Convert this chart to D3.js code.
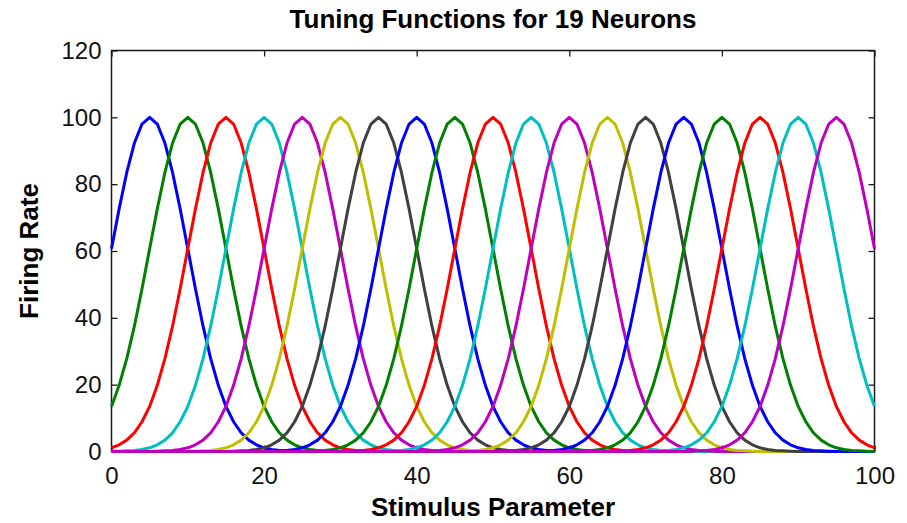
<!DOCTYPE html>
<html>
<head>
<meta charset="utf-8">
<script src="https://cdn.jsdelivr.net/npm/d3@7"></script>
<style>
  html, body { margin: 0; padding: 0; background: #fff; }
  svg { display: block; }
</style>
</head>
<body>
<svg id="chart" width="907" height="523"></svg>
<script>
// Stimulus values (x) at which every neuron's firing rate is sampled
const stimulus = d3.range(0, 101, 1);

// Preferred stimulus of each neuron
const preferred = [5, 10, 15, 20, 25, 30, 35, 40, 45, 50, 55, 60, 65, 70, 75, 80, 85, 90, 95];

// Firing rate of each neuron at stimulus 0..100
const neuron01 = [60.7,72.6,83.5,92.3,98,100,98,92.3,83.5,72.6,60.7,48.7,37.5,27.8,19.8,13.5,8.9,5.6,3.4,2,1.1,0.6,0.3,0.2,0.1,
  0,0,0,0,0,0,0,0,0,0, 0,0,0,0,0,0,0,0,0,0, 0,0,0,0,0,0,0,0,0,0, 0,0,0,0,0,0,0,0,0,0, 0,0,0,0,0,0,0,0,0,0, 0,0,0,0,0,0,0,0,0,0, 0,0,0,0,0,0,0,0,0,0, 0,0,0,0,0,0];
const neuron02 = [13.5,19.8,27.8,37.5,48.7,60.7,72.6,83.5,92.3,98,100,98,92.3,83.5,72.6,60.7,48.7,37.5,27.8,19.8,13.5,8.9,5.6,3.4,2,1.1,0.6,0.3,0.2,0.1,
  0,0,0,0,0,0,0,0,0,0, 0,0,0,0,0,0,0,0,0,0, 0,0,0,0,0,0,0,0,0,0, 0,0,0,0,0,0,0,0,0,0, 0,0,0,0,0,0,0,0,0,0, 0,0,0,0,0,0,0,0,0,0, 0,0,0,0,0,0,0,0,0,0, 0];
const neuron03 = [1.1,2,3.4,5.6,8.9,13.5,19.8,27.8,37.5,48.7,60.7,72.6,83.5,92.3,98,100,98,92.3,83.5,72.6,60.7,48.7,37.5,27.8,19.8,13.5,8.9,5.6,3.4,2,1.1,0.6,0.3,0.2,0.1,
  0,0,0,0,0,0,0,0,0,0, 0,0,0,0,0,0,0,0,0,0, 0,0,0,0,0,0,0,0,0,0, 0,0,0,0,0,0,0,0,0,0, 0,0,0,0,0,0,0,0,0,0, 0,0,0,0,0,0,0,0,0,0, 0,0,0,0,0,0];
const neuron04 = [0,
  0.1,0.2,0.3,0.6,1.1,2,3.4,5.6,8.9,13.5,19.8,27.8,37.5,48.7,60.7,72.6,83.5,92.3,98,100,98,92.3,83.5,72.6,60.7,48.7,37.5,27.8,19.8,13.5,8.9,5.6,3.4,2,1.1,0.6,0.3,0.2,0.1,
  0,0,0,0,0,0,0,0,0,0, 0,0,0,0,0,0,0,0,0,0, 0,0,0,0,0,0,0,0,0,0, 0,0,0,0,0,0,0,0,0,0, 0,0,0,0,0,0,0,0,0,0, 0,0,0,0,0,0,0,0,0,0, 0];
const neuron05 = [0,0,0,0,0,0,
  0.1,0.2,0.3,0.6,1.1,2,3.4,5.6,8.9,13.5,19.8,27.8,37.5,48.7,60.7,72.6,83.5,92.3,98,100,98,92.3,83.5,72.6,60.7,48.7,37.5,27.8,19.8,13.5,8.9,5.6,3.4,2,1.1,0.6,0.3,0.2,0.1,
  0,0,0,0,0,0,0,0,0,0, 0,0,0,0,0,0,0,0,0,0, 0,0,0,0,0,0,0,0,0,0, 0,0,0,0,0,0,0,0,0,0, 0,0,0,0,0,0,0,0,0,0, 0,0,0,0,0,0];
const neuron06 = [0,0,0,0,0,0,0,0,0,0, 0,
  0.1,0.2,0.3,0.6,1.1,2,3.4,5.6,8.9,13.5,19.8,27.8,37.5,48.7,60.7,72.6,83.5,92.3,98,100,98,92.3,83.5,72.6,60.7,48.7,37.5,27.8,19.8,13.5,8.9,5.6,3.4,2,1.1,0.6,0.3,0.2,0.1,
  0,0,0,0,0,0,0,0,0,0, 0,0,0,0,0,0,0,0,0,0, 0,0,0,0,0,0,0,0,0,0, 0,0,0,0,0,0,0,0,0,0, 0,0,0,0,0,0,0,0,0,0, 0];
const neuron07 = [0,0,0,0,0,0,0,0,0,0, 0,0,0,0,0,0,
  0.1,0.2,0.3,0.6,1.1,2,3.4,5.6,8.9,13.5,19.8,27.8,37.5,48.7,60.7,72.6,83.5,92.3,98,100,98,92.3,83.5,72.6,60.7,48.7,37.5,27.8,19.8,13.5,8.9,5.6,3.4,2,1.1,0.6,0.3,0.2,0.1,
  0,0,0,0,0,0,0,0,0,0, 0,0,0,0,0,0,0,0,0,0, 0,0,0,0,0,0,0,0,0,0, 0,0,0,0,0,0,0,0,0,0, 0,0,0,0,0,0];
const neuron08 = [0,0,0,0,0,0,0,0,0,0, 0,0,0,0,0,0,0,0,0,0, 0,
  0.1,0.2,0.3,0.6,1.1,2,3.4,5.6,8.9,13.5,19.8,27.8,37.5,48.7,60.7,72.6,83.5,92.3,98,100,98,92.3,83.5,72.6,60.7,48.7,37.5,27.8,19.8,13.5,8.9,5.6,3.4,2,1.1,0.6,0.3,0.2,0.1,
  0,0,0,0,0,0,0,0,0,0, 0,0,0,0,0,0,0,0,0,0, 0,0,0,0,0,0,0,0,0,0, 0,0,0,0,0,0,0,0,0,0, 0];
const neuron09 = [0,0,0,0,0,0,0,0,0,0, 0,0,0,0,0,0,0,0,0,0, 0,0,0,0,0,0,
  0.1,0.2,0.3,0.6,1.1,2,3.4,5.6,8.9,13.5,19.8,27.8,37.5,48.7,60.7,72.6,83.5,92.3,98,100,98,92.3,83.5,72.6,60.7,48.7,37.5,27.8,19.8,13.5,8.9,5.6,3.4,2,1.1,0.6,0.3,0.2,0.1,
  0,0,0,0,0,0,0,0,0,0, 0,0,0,0,0,0,0,0,0,0, 0,0,0,0,0,0,0,0,0,0, 0,0,0,0,0,0];
const neuron10 = [0,0,0,0,0,0,0,0,0,0, 0,0,0,0,0,0,0,0,0,0, 0,0,0,0,0,0,0,0,0,0, 0,
  0.1,0.2,0.3,0.6,1.1,2,3.4,5.6,8.9,13.5,19.8,27.8,37.5,48.7,60.7,72.6,83.5,92.3,98,100,98,92.3,83.5,72.6,60.7,48.7,37.5,27.8,19.8,13.5,8.9,5.6,3.4,2,1.1,0.6,0.3,0.2,0.1,
  0,0,0,0,0,0,0,0,0,0, 0,0,0,0,0,0,0,0,0,0, 0,0,0,0,0,0,0,0,0,0, 0];
const neuron11 = [0,0,0,0,0,0,0,0,0,0, 0,0,0,0,0,0,0,0,0,0, 0,0,0,0,0,0,0,0,0,0, 0,0,0,0,0,0,
  0.1,0.2,0.3,0.6,1.1,2,3.4,5.6,8.9,13.5,19.8,27.8,37.5,48.7,60.7,72.6,83.5,92.3,98,100,98,92.3,83.5,72.6,60.7,48.7,37.5,27.8,19.8,13.5,8.9,5.6,3.4,2,1.1,0.6,0.3,0.2,0.1,
  0,0,0,0,0,0,0,0,0,0, 0,0,0,0,0,0,0,0,0,0, 0,0,0,0,0,0];
const neuron12 = [0,0,0,0,0,0,0,0,0,0, 0,0,0,0,0,0,0,0,0,0, 0,0,0,0,0,0,0,0,0,0, 0,0,0,0,0,0,0,0,0,0, 0,
  0.1,0.2,0.3,0.6,1.1,2,3.4,5.6,8.9,13.5,19.8,27.8,37.5,48.7,60.7,72.6,83.5,92.3,98,100,98,92.3,83.5,72.6,60.7,48.7,37.5,27.8,19.8,13.5,8.9,5.6,3.4,2,1.1,0.6,0.3,0.2,0.1,
  0,0,0,0,0,0,0,0,0,0, 0,0,0,0,0,0,0,0,0,0, 0];
const neuron13 = [0,0,0,0,0,0,0,0,0,0, 0,0,0,0,0,0,0,0,0,0, 0,0,0,0,0,0,0,0,0,0, 0,0,0,0,0,0,0,0,0,0, 0,0,0,0,0,0,
  0.1,0.2,0.3,0.6,1.1,2,3.4,5.6,8.9,13.5,19.8,27.8,37.5,48.7,60.7,72.6,83.5,92.3,98,100,98,92.3,83.5,72.6,60.7,48.7,37.5,27.8,19.8,13.5,8.9,5.6,3.4,2,1.1,0.6,0.3,0.2,0.1,
  0,0,0,0,0,0,0,0,0,0, 0,0,0,0,0,0];
const neuron14 = [0,0,0,0,0,0,0,0,0,0, 0,0,0,0,0,0,0,0,0,0, 0,0,0,0,0,0,0,0,0,0, 0,0,0,0,0,0,0,0,0,0, 0,0,0,0,0,0,0,0,0,0, 0,
  0.1,0.2,0.3,0.6,1.1,2,3.4,5.6,8.9,13.5,19.8,27.8,37.5,48.7,60.7,72.6,83.5,92.3,98,100,98,92.3,83.5,72.6,60.7,48.7,37.5,27.8,19.8,13.5,8.9,5.6,3.4,2,1.1,0.6,0.3,0.2,0.1,
  0,0,0,0,0,0,0,0,0,0, 0];
const neuron15 = [0,0,0,0,0,0,0,0,0,0, 0,0,0,0,0,0,0,0,0,0, 0,0,0,0,0,0,0,0,0,0, 0,0,0,0,0,0,0,0,0,0, 0,0,0,0,0,0,0,0,0,0, 0,0,0,0,0,0,
  0.1,0.2,0.3,0.6,1.1,2,3.4,5.6,8.9,13.5,19.8,27.8,37.5,48.7,60.7,72.6,83.5,92.3,98,100,98,92.3,83.5,72.6,60.7,48.7,37.5,27.8,19.8,13.5,8.9,5.6,3.4,2,1.1,0.6,0.3,0.2,0.1,
  0,0,0,0,0,0];
const neuron16 = [0,0,0,0,0,0,0,0,0,0, 0,0,0,0,0,0,0,0,0,0, 0,0,0,0,0,0,0,0,0,0, 0,0,0,0,0,0,0,0,0,0, 0,0,0,0,0,0,0,0,0,0, 0,0,0,0,0,0,0,0,0,0, 0,
  0.1,0.2,0.3,0.6,1.1,2,3.4,5.6,8.9,13.5,19.8,27.8,37.5,48.7,60.7,72.6,83.5,92.3,98,100,98,92.3,83.5,72.6,60.7,48.7,37.5,27.8,19.8,13.5,8.9,5.6,3.4,2,1.1,0.6,0.3,0.2,0.1,
  0];
const neuron17 = [0,0,0,0,0,0,0,0,0,0, 0,0,0,0,0,0,0,0,0,0, 0,0,0,0,0,0,0,0,0,0, 0,0,0,0,0,0,0,0,0,0, 0,0,0,0,0,0,0,0,0,0, 0,0,0,0,0,0,0,0,0,0, 0,0,0,0,0,0,
  0.1,0.2,0.3,0.6,1.1,2,3.4,5.6,8.9,13.5,19.8,27.8,37.5,48.7,60.7,72.6,83.5,92.3,98,100,98,92.3,83.5,72.6,60.7,48.7,37.5,27.8,19.8,13.5,8.9,5.6,3.4,2,1.1];
const neuron18 = [0,0,0,0,0,0,0,0,0,0, 0,0,0,0,0,0,0,0,0,0, 0,0,0,0,0,0,0,0,0,0, 0,0,0,0,0,0,0,0,0,0, 0,0,0,0,0,0,0,0,0,0, 0,0,0,0,0,0,0,0,0,0, 0,0,0,0,0,0,0,0,0,0, 0,
  0.1,0.2,0.3,0.6,1.1,2,3.4,5.6,8.9,13.5,19.8,27.8,37.5,48.7,60.7,72.6,83.5,92.3,98,100,98,92.3,83.5,72.6,60.7,48.7,37.5,27.8,19.8,13.5];
const neuron19 = [0,0,0,0,0,0,0,0,0,0, 0,0,0,0,0,0,0,0,0,0, 0,0,0,0,0,0,0,0,0,0, 0,0,0,0,0,0,0,0,0,0, 0,0,0,0,0,0,0,0,0,0, 0,0,0,0,0,0,0,0,0,0, 0,0,0,0,0,0,0,0,0,0, 0,0,0,0,0,0,
  0.1,0.2,0.3,0.6,1.1,2,3.4,5.6,8.9,13.5,19.8,27.8,37.5,48.7,60.7,72.6,83.5,92.3,98,100,98,92.3,83.5,72.6,60.7];

const neurons = [neuron01, neuron02, neuron03, neuron04, neuron05, neuron06, neuron07,
  neuron08, neuron09, neuron10, neuron11, neuron12, neuron13, neuron14,
  neuron15, neuron16, neuron17, neuron18, neuron19];

// Line colour cycle (blue, green, red, cyan, magenta, olive, dark grey)
const colorCycle = ["#0000ff", "#008000", "#ff0000", "#00bfbf", "#bf00bf", "#bfbf00", "#404040"];

const xTicks = [0, 20, 40, 60, 80, 100];
const yTicks = [0, 20, 40, 60, 80, 100, 120];

const titleText = "Tuning Functions for 19 Neurons";
const xLabelText = "Stimulus Parameter";
const yLabelText = "Firing Rate";

// ---- layout ----
const svg = d3.select("#chart");
const plotLeft = 111.5, plotRight = 874.5, plotTop = 50.5, plotBottom = 451.5;
const font = "Liberation Sans, Arial, Helvetica, sans-serif";

const x = d3.scaleLinear().domain([0, 100]).range([plotLeft, plotRight]);
const y = d3.scaleLinear().domain([0, 120]).range([plotBottom, plotTop]);

svg.append("rect").attr("width", 907).attr("height", 523).attr("fill", "#fff");

// axes box with inward ticks on every side
const tickLen = 6;
const axisColor = "#1a1a1a";

function styleAxis(g) {
  g.select(".domain").remove();
  g.selectAll(".tick line").attr("stroke", axisColor).attr("stroke-width", 1.3);
  g.selectAll(".tick text")
    .attr("fill", "#111")
    .style("font-family", font)
    .style("font-size", "24px");
}

svg.append("g")
  .attr("transform", `translate(0,${plotBottom})`)
  .call(d3.axisBottom(x).tickValues(xTicks).tickSize(-tickLen).tickPadding(15).tickFormat(d3.format("d")))
  .call(styleAxis);

svg.append("g")
  .attr("transform", `translate(0,${plotTop})`)
  .call(d3.axisTop(x).tickValues(xTicks).tickSize(-tickLen).tickFormat(""))
  .call(styleAxis);

svg.append("g")
  .attr("transform", `translate(${plotLeft},0)`)
  .call(d3.axisLeft(y).tickValues(yTicks).tickSize(-tickLen).tickPadding(10).tickFormat(d3.format("d")))
  .call(styleAxis);

svg.append("g")
  .attr("transform", `translate(${plotRight},0)`)
  .call(d3.axisRight(y).tickValues(yTicks).tickSize(-tickLen).tickFormat(""))
  .call(styleAxis);

svg.append("rect")
  .attr("x", plotLeft).attr("y", plotTop)
  .attr("width", plotRight - plotLeft).attr("height", plotBottom - plotTop)
  .attr("fill", "none")
  .attr("stroke", axisColor)
  .attr("stroke-width", 1.5);

// tuning curves, drawn above the frame so the lowest traces sit on the bottom edge
const line = d3.line()
  .x((d, i) => x(stimulus[i]))
  .y(d => y(d));

svg.append("g")
  .selectAll("path")
  .data(neurons)
  .join("path")
  .attr("d", line)
  .attr("fill", "none")
  .attr("stroke", (d, i) => colorCycle[i % colorCycle.length])
  .attr("stroke-width", 3)
  .attr("stroke-linejoin", "round");

// title and axis labels
svg.append("text")
  .attr("x", (plotLeft + plotRight) / 2).attr("y", 28)
  .attr("text-anchor", "middle")
  .style("font-family", font).style("font-weight", "bold").style("font-size", "26px")
  .attr("fill", "#000")
  .text(titleText);

svg.append("text")
  .attr("x", (plotLeft + plotRight) / 2).attr("y", 516)
  .attr("text-anchor", "middle")
  .style("font-family", font).style("font-weight", "bold").style("font-size", "26px")
  .attr("fill", "#000")
  .text(xLabelText);

svg.append("text")
  .attr("transform", `translate(38,${(plotTop + plotBottom) / 2}) rotate(-90)`)
  .attr("text-anchor", "middle")
  .style("font-family", font).style("font-weight", "bold").style("font-size", "26px")
  .attr("fill", "#000")
  .text(yLabelText);
</script>
</body>
</html>
